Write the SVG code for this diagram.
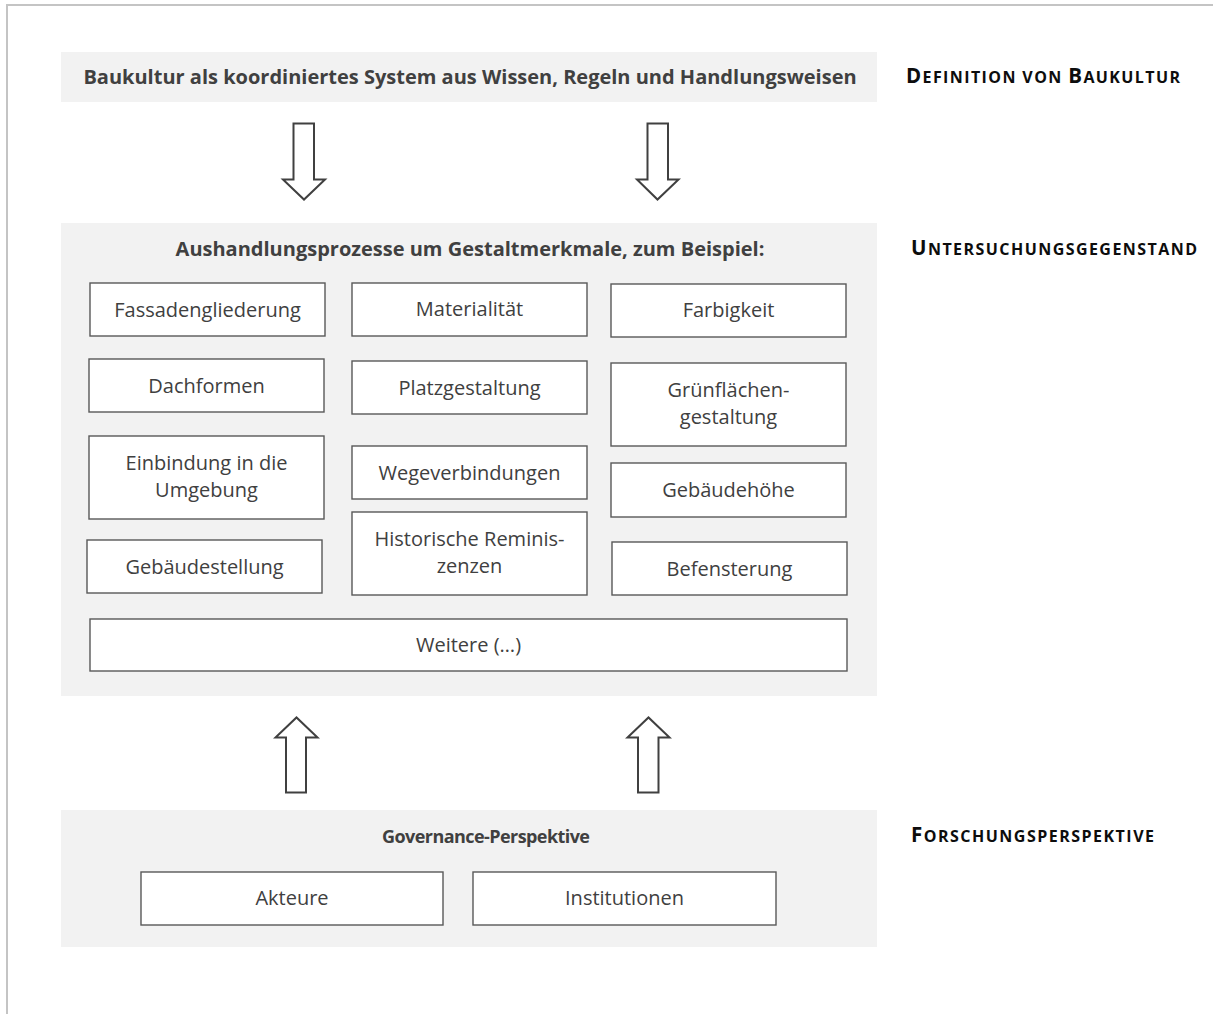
<svg xmlns="http://www.w3.org/2000/svg" width="1213" height="1014" viewBox="0 0 1213 1014">
<style>
.panel{fill:#f2f2f2;stroke:none}
.box{fill:#ffffff;stroke:#595959;stroke-width:1.4}
.t{font-family:"Open Sans","Noto Sans","Liberation Sans",sans-serif;font-size:20px;fill:#404040;text-anchor:middle}
.h{font-family:"Open Sans","Noto Sans","Liberation Sans",sans-serif;font-size:20px;font-weight:bold;fill:#404040;text-anchor:middle}
.lab{font-family:"Open Sans","Noto Sans","Liberation Sans",sans-serif;font-weight:bold;fill:#0d0d0d;font-size:16px}
.big{font-size:20.5px}
.arr{fill:#ffffff;stroke:#404040;stroke-width:2;stroke-linejoin:miter}
</style>
<rect width="1213" height="1014" fill="#ffffff"/>
<path d="M7 1014 V5 H1213" fill="none" stroke="#c4c4c4" stroke-width="2"/>

<g id="definition">
<rect class="panel" x="61" y="52" width="816" height="50"/>
<text class="h" x="470" y="84">Baukultur als koordiniertes System aus Wissen, Regeln und Handlungsweisen</text>
</g>
<g id="label-definition"><text class="lab" x="906" y="83" textLength="274" lengthAdjust="spacing"><tspan class="big">D</tspan>EFINITION VON <tspan class="big">B</tspan>AUKULTUR</text></g>

<g id="untersuchung">
<rect class="panel" x="61" y="223" width="816" height="473"/>
<text class="h" x="470" y="256">Aushandlungsprozesse um Gestaltmerkmale, zum Beispiel:</text>
</g>
<g id="label-untersuchung"><text class="lab" x="911" y="255" textLength="286" lengthAdjust="spacing"><tspan class="big">U</tspan>NTERSUCHUNGSGEGENSTAND</text></g>

<g id="fassadengliederung"><rect class="box" x="90" y="283" width="235" height="53"/><text class="t" x="207.5" y="317">Fassadengliederung</text></g>
<g id="materialitaet"><rect class="box" x="352" y="283" width="235" height="53"/><text class="t" x="469.5" y="316">Materialität</text></g>
<g id="farbigkeit"><rect class="box" x="611" y="284" width="235" height="53"/><text class="t" x="728.5" y="317">Farbigkeit</text></g>

<g id="dachformen"><rect class="box" x="89" y="359" width="235" height="53"/><text class="t" x="206.5" y="393">Dachformen</text></g>
<g id="platzgestaltung"><rect class="box" x="352" y="361" width="235" height="53"/><text class="t" x="469.5" y="395">Platzgestaltung</text></g>
<g id="gruenflaechen"><rect class="box" x="611" y="363" width="235" height="83"/><text class="t" x="728.5" y="397">Grünflächen-</text><text class="t" x="728.5" y="424">gestaltung</text></g>

<g id="einbindung"><rect class="box" x="89" y="436" width="235" height="83"/><text class="t" x="206.5" y="470">Einbindung in die</text><text class="t" x="206.5" y="497">Umgebung</text></g>
<g id="wegeverbindungen"><rect class="box" x="352" y="446" width="235" height="53"/><text class="t" x="469.5" y="480">Wegeverbindungen</text></g>
<g id="gebaeudehoehe"><rect class="box" x="611" y="463" width="235" height="54"/><text class="t" x="728.5" y="497">Gebäudehöhe</text></g>

<g id="gebaeudestellung"><rect class="box" x="87" y="540" width="235" height="53"/><text class="t" x="204.5" y="574">Gebäudestellung</text></g>
<g id="historische"><rect class="box" x="352" y="512" width="235" height="83"/><text class="t" x="469.5" y="546">Historische Reminis-</text><text class="t" x="469.5" y="573">zenzen</text></g>
<g id="befensterung"><rect class="box" x="612" y="542" width="235" height="53"/><text class="t" x="729.5" y="576">Befensterung</text></g>

<g id="weitere"><rect class="box" x="90" y="619" width="757" height="52"/><text class="t" x="468.5" y="652">Weitere (…)</text></g>

<g id="forschung">
<rect class="panel" x="61" y="810" width="816" height="137"/>
<text class="h" x="486" y="843" style="font-size:18px" textLength="208" lengthAdjust="spacing">Governance-Perspektive</text>
</g>
<g id="akteure"><rect class="box" x="141" y="872" width="302" height="53"/><text class="t" x="292" y="905">Akteure</text></g>
<g id="institutionen"><rect class="box" x="473" y="872" width="303" height="53"/><text class="t" x="624.5" y="905">Institutionen</text></g>
<g id="label-forschung"><text class="lab" x="911" y="842" textLength="243" lengthAdjust="spacing"><tspan class="big">F</tspan>ORSCHUNGSPERSPEKTIVE</text></g>

<g id="connectors">
<path class="arr" d="M293.5 123.5 H314 V179.5 H325 L304 199.5 L283 179.5 H293.5 Z"/>
<path class="arr" d="M647.5 123.5 H668 V179.5 H678.5 L657.5 199.5 L637 179.5 H647.5 Z"/>
<path class="arr" d="M286 792.5 H306 V737.5 H317.5 L296.5 717.5 L275.5 737.5 H286 Z"/>
<path class="arr" d="M638 792.5 H658.5 V737.5 H669.5 L648.5 717.5 L627.5 737.5 H638 Z"/>
</g>
</svg>
